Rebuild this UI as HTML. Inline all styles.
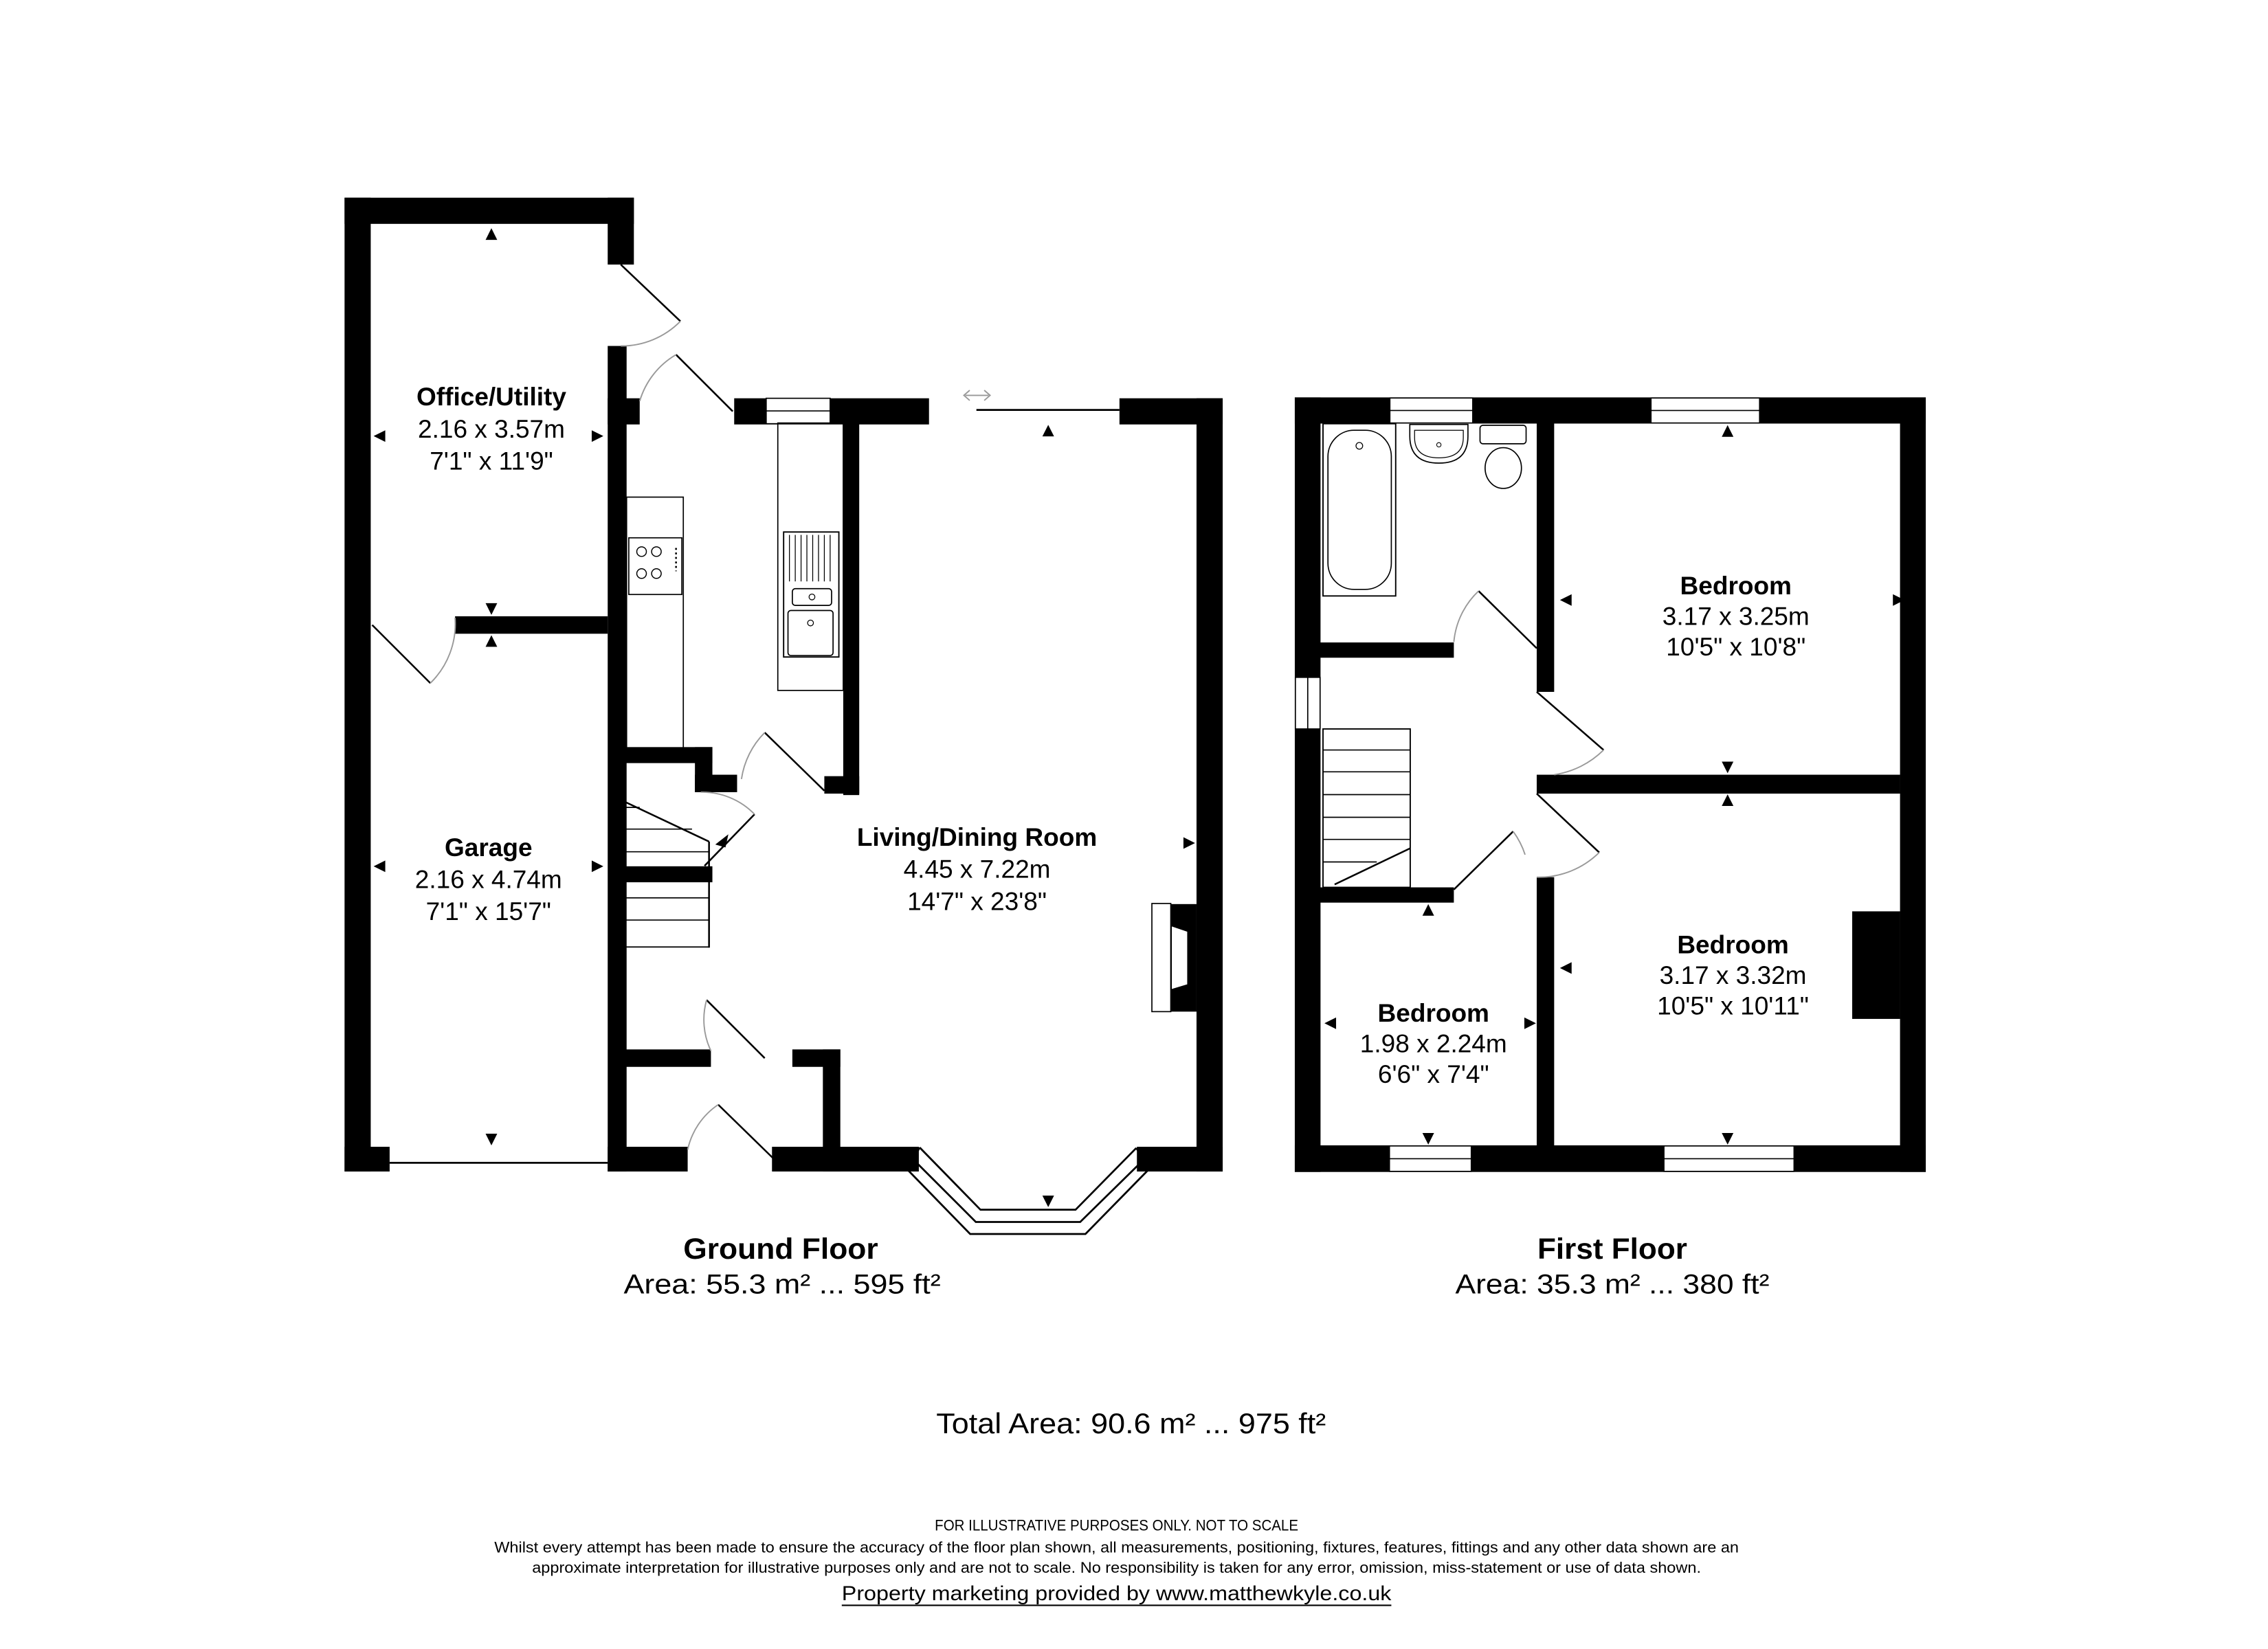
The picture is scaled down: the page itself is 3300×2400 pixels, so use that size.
<!DOCTYPE html>
<html><head><meta charset="utf-8"><style>
html,body{margin:0;padding:0;background:#fff;}
svg{display:block;}
text{font-family:"Liberation Sans",Arial,sans-serif;fill:#000;}
</style></head><body>
<svg width="3300" height="2400" viewBox="0 0 1560 1134.5" xmlns="http://www.w3.org/2000/svg">
<rect x="0" y="0" width="1560" height="1134.5" fill="#fff"/>
<g fill="#000">
<rect x="237" y="136" width="18" height="670"/>
<rect x="237" y="136" width="199" height="18"/>
<rect x="418" y="136" width="18" height="46"/>
<rect x="418" y="238" width="13" height="568"/>
<rect x="237" y="789" width="31" height="17"/>
<rect x="313" y="424" width="105" height="12"/>
<rect x="418" y="274" width="22" height="18"/>
<rect x="505" y="274" width="134" height="18"/>
<rect x="580" y="291" width="11" height="256"/>
<rect x="567" y="534" width="24" height="12"/>
<rect x="427" y="514" width="63" height="11"/>
<rect x="478" y="514" width="12" height="31"/>
<rect x="478" y="533" width="29" height="12"/>
<rect x="427" y="596" width="63" height="11"/>
<rect x="427" y="722" width="62" height="12"/>
<rect x="545" y="722" width="33" height="12"/>
<rect x="566" y="722" width="12" height="84"/>
<rect x="418" y="789" width="55" height="17"/>
<rect x="531" y="789" width="101" height="17"/>
<rect x="782" y="789" width="59" height="17"/>
<rect x="823" y="274" width="18" height="532"/>
<rect x="770" y="274" width="71" height="18"/>
<rect x="805" y="622" width="18" height="74"/>
</g>
<rect x="527" y="274" width="44" height="17.5" fill="#fff" stroke="#000" stroke-width="0.8"/>
<line x1="527" y1="282.7" x2="571" y2="282.7" stroke="#000" stroke-width="0.8"/>
<rect x="792.3" y="621.6" width="13" height="74.4" fill="#fff" stroke="#000" stroke-width="0.8"/>
<polygon points="806,637.4 816.6,641 816.6,677.2 806,680.4" fill="#fff"/>
<g stroke="#000" fill="none" stroke-width="1.2">
<line x1="268" y1="800" x2="418" y2="800" stroke-width="1.3"/>
<line x1="427" y1="182" x2="468" y2="221"/>
<line x1="504" y1="283" x2="465" y2="244"/>
<line x1="256" y1="430" x2="296" y2="470"/>
<line x1="567" y1="544" x2="526" y2="504"/>
<line x1="484.6" y1="595.7" x2="519" y2="560.2"/>
<line x1="486" y1="688" x2="526" y2="728"/>
<line x1="494" y1="760" x2="535" y2="800"/>
<line x1="671.6" y1="282" x2="770" y2="282" stroke-width="1.3"/>
<line x1="427.8" y1="550.7" x2="487.7" y2="579"/>
<line x1="487.7" y1="579" x2="487.7" y2="652"/>
<line x1="427" y1="555.5" x2="440" y2="555.5" stroke-width="0.8"/>
<line x1="427" y1="570.4" x2="476" y2="570.4" stroke-width="0.8"/>
<line x1="427" y1="586" x2="487.7" y2="586" stroke-width="0.8"/>
<line x1="427" y1="617.7" x2="487.7" y2="617.7" stroke-width="0.8"/>
<line x1="427" y1="633" x2="487.7" y2="633" stroke-width="0.8"/>
<line x1="427" y1="651.5" x2="487.7" y2="651.5" stroke-width="0.8"/>
<rect x="431" y="342" width="39" height="173" stroke-width="0.8"/>
<rect x="432.5" y="370" width="36.5" height="39" stroke-width="0.8"/>
<circle cx="441.3" cy="379.5" r="3.3" stroke-width="0.7"/>
<circle cx="451.5" cy="379.5" r="3.3" stroke-width="0.7"/>
<circle cx="441.3" cy="394.6" r="3.3" stroke-width="0.7"/>
<circle cx="451.5" cy="394.6" r="3.3" stroke-width="0.7"/>
<line x1="465" y1="377" x2="465" y2="393" stroke-width="1.2" stroke-dasharray="1.3,1.8"/>
<rect x="535" y="291" width="45" height="184" stroke-width="0.8"/>
<rect x="539" y="366" width="38" height="86" stroke-width="0.9"/>
<g stroke-width="0.6">
<line x1="543" y1="368" x2="543" y2="400"/><line x1="547" y1="368" x2="547" y2="400"/>
<line x1="551" y1="368" x2="551" y2="400"/><line x1="555" y1="368" x2="555" y2="400"/>
<line x1="559" y1="368" x2="559" y2="400"/><line x1="563" y1="368" x2="563" y2="400"/>
<line x1="567" y1="368" x2="567" y2="400"/><line x1="571" y1="368" x2="571" y2="400"/>
</g>
<rect x="545" y="405" width="27" height="11.5" rx="2" stroke-width="0.8"/>
<circle cx="558.5" cy="410.7" r="2" stroke-width="0.6"/>
<rect x="542" y="420" width="31" height="31" rx="2" stroke-width="0.8"/>
<circle cx="557.5" cy="428.6" r="2" stroke-width="0.6"/>
<polyline points="632.6,789.5 674.4,832.3 739.8,832.3 781.6,789.8" stroke-width="1.3"/>
<polyline points="629.5,799 671.2,840.7 743,840.7 785.5,799" stroke-width="1.3"/>
<polyline points="624,804.5 667.3,849 746.6,849 790.2,804.5" stroke-width="1.3"/>
<line x1="624" y1="804.5" x2="632.6" y2="789.5" stroke-width="1.3"/>
<line x1="790.2" y1="804.5" x2="781.6" y2="789.8" stroke-width="1.3"/>
</g>
<g stroke="#999" fill="none" stroke-width="0.9">
<path d="M468,221 A57,57 0 0 1 427,238"/>
<path d="M440,276 A55,55 0 0 1 465,244"/>
<path d="M296,470 A57,57 0 0 0 313,425"/>
<path d="M526,504 A57,57 0 0 0 510,536"/>
<path d="M519,560.2 A50,50 0 0 0 482,545"/>
<path d="M489,723 A50,50 0 0 1 486,688"/>
<path d="M473,791 A50,50 0 0 1 494,760"/>
</g>
<path d="M664,272 L680,272 M667,268.5 L663,272 L667,275.5 M677,268.5 L681,272 L677,275.5" stroke="#999" stroke-width="0.9" fill="none"/>
<g fill="#000">
<polygon points="338,157 334,165 342,165"/>
<polygon points="257,300 265,296 265,304"/>
<polygon points="415,300 407,296 407,304"/>
<polygon points="338,423 334,415 342,415"/>
<polygon points="338,437 334,445 342,445"/>
<polygon points="257,596 265,592 265,600"/>
<polygon points="415,596 407,592 407,600"/>
<polygon points="338,788 334,780 342,780"/>
<polygon points="721,292.3 717,300.2 725,300.2"/>
<polygon points="822,580 814,576 814,584"/>
<polygon points="721,830.5 717,822.6 725,822.6"/>
<polygon points="492,581 501,574 499,583"/>
</g>
<g fill="#000">
<rect x="890.6" y="273.4" width="434" height="18"/>
<rect x="890.6" y="788" width="434" height="18.3"/>
<rect x="890.6" y="273.4" width="17.7" height="532.9"/>
<rect x="1306.9" y="273.4" width="17.7" height="532.9"/>
<rect x="1057" y="291" width="12" height="185"/>
<rect x="1057" y="533" width="250" height="13"/>
<rect x="1057" y="603.5" width="12" height="185"/>
<rect x="908" y="442" width="92" height="10.5"/>
<rect x="908" y="610.5" width="92" height="10.5"/>
<rect x="1274" y="627" width="33" height="74"/>
</g>
<g fill="#fff" stroke="#000" stroke-width="0.8">
<rect x="956" y="273.8" width="57" height="17.2"/>
<rect x="1135.6" y="273.8" width="74.7" height="17.2"/>
<rect x="955.7" y="788.4" width="56.3" height="17.5"/>
<rect x="1144.5" y="788.4" width="89.5" height="17.5"/>
<rect x="891" y="466" width="17" height="35.5"/>
</g>
<g stroke="#000" stroke-width="0.8">
<line x1="956" y1="282.4" x2="1013" y2="282.4"/>
<line x1="1135.6" y1="282.4" x2="1210.3" y2="282.4"/>
<line x1="955.7" y1="797.2" x2="1012" y2="797.2"/>
<line x1="1144.5" y1="797.2" x2="1234" y2="797.2"/>
<line x1="899.5" y1="466" x2="899.5" y2="501.5"/>
</g>
<g stroke="#000" fill="none" stroke-width="1.2">
<rect x="910" y="501.5" width="60" height="109" stroke-width="0.9"/>
<g stroke-width="0.8">
<line x1="910" y1="516" x2="970" y2="516"/>
<line x1="910" y1="531" x2="970" y2="531"/>
<line x1="910" y1="546.7" x2="970" y2="546.7"/>
<line x1="910" y1="562.3" x2="970" y2="562.3"/>
<line x1="910" y1="577.5" x2="970" y2="577.5"/>
<line x1="910" y1="593" x2="947" y2="593"/>
</g>
<line x1="970" y1="583.6" x2="918" y2="608.5"/>
<line x1="1017" y1="406.6" x2="1057" y2="446"/>
<line x1="1057" y1="476" x2="1103" y2="516"/>
<line x1="1057" y1="546" x2="1100" y2="586.5"/>
<line x1="1000" y1="612" x2="1040.8" y2="572"/>
<rect x="910" y="291.5" width="50" height="118.5" stroke-width="0.9"/>
<rect x="913.4" y="296" width="43.6" height="109.5" rx="18" stroke-width="0.8"/>
<circle cx="935" cy="306.7" r="2.3" stroke-width="0.6"/>
<path d="M969.7,292 L1009.7,292 L1009.7,300 Q1009.7,318.6 989.7,318.6 Q969.7,318.6 969.7,300 Z" stroke-width="0.8"/>
<path d="M973,296 L1006.5,296 L1006.5,301 Q1006.5,315 989.7,315 Q973,315 973,301 Z" stroke-width="0.6"/>
<circle cx="989.7" cy="306" r="1.5" stroke-width="0.5"/>
<rect x="1018" y="292.6" width="31.7" height="12.7" rx="2" stroke-width="0.8"/>
<ellipse cx="1034" cy="322" rx="12.5" ry="14" stroke-width="0.8"/>
</g>
<g stroke="#999" fill="none" stroke-width="0.9">
<path d="M1000,441.7 A55,55 0 0 1 1017,406.6"/>
<path d="M1103,516 A61,61 0 0 1 1069,533"/>
<path d="M1100,586.5 A59,59 0 0 1 1057,603.5"/>
<path d="M1040.8,572 A57,57 0 0 1 1049,588"/>
</g>
<g fill="#000">
<polygon points="1188.3,292.5 1184.3,300.5 1192.3,300.5"/>
<polygon points="1073,412.8 1081,408.8 1081,416.8"/>
<polygon points="1310,412.8 1302,408.8 1302,416.8"/>
<polygon points="1188.3,532 1184.3,524 1192.3,524"/>
<polygon points="1188.3,546.5 1184.3,554.5 1192.3,554.5"/>
<polygon points="1073,666 1081,662 1081,670"/>
<polygon points="1188.3,787.5 1184.3,779.5 1192.3,779.5"/>
<polygon points="982.4,622 978.4,630 986.4,630"/>
<polygon points="911,704 919,700 919,708"/>
<polygon points="1056.5,704 1048.5,700 1048.5,708"/>
<polygon points="982.4,787.5 978.4,779.5 986.4,779.5"/>
</g>
<g text-anchor="middle" font-size="17.5" transform="translate(-4,0)">
<text x="342" y="279" font-weight="bold">Office/Utility</text>
<text x="342" y="301">2.16 x 3.57m</text>
<text x="342" y="323">7'1" x 11'9"</text>
<text x="340" y="589" font-weight="bold">Garage</text>
<text x="340" y="611">2.16 x 4.74m</text>
<text x="340" y="633">7'1" x 15'7"</text>
<text x="676" y="582" font-weight="bold">Living/Dining Room</text>
<text x="676" y="604">4.45 x 7.22m</text>
<text x="676" y="626">14'7" x 23'8"</text>
<text x="1198" y="409" font-weight="bold">Bedroom</text>
<text x="1198" y="430">3.17 x 3.25m</text>
<text x="1198" y="451">10'5" x 10'8"</text>
<text x="1196" y="656" font-weight="bold">Bedroom</text>
<text x="1196" y="677">3.17 x 3.32m</text>
<text x="1196" y="698">10'5" x 10'11"</text>
<text x="990" y="703" font-weight="bold">Bedroom</text>
<text x="990" y="724">1.98 x 2.24m</text>
<text x="990" y="745">6'6" x 7'4"</text>
</g>
<g text-anchor="middle" transform="translate(-4,-4)">
<text x="541" y="870" font-size="20" font-weight="bold" textLength="134" lengthAdjust="spacingAndGlyphs">Ground Floor</text>
<text x="542" y="894" font-size="19" textLength="218" lengthAdjust="spacingAndGlyphs">Area: 55.3 m² ... 595 ft²</text>
<text x="1113" y="870" font-size="20" font-weight="bold" textLength="103" lengthAdjust="spacingAndGlyphs">First Floor</text>
<text x="1113" y="894" font-size="19" textLength="216" lengthAdjust="spacingAndGlyphs">Area: 35.3 m² ... 380 ft²</text>
<text x="782" y="990" font-size="19.5" textLength="268" lengthAdjust="spacingAndGlyphs">Total Area: 90.6 m² ... 975 ft²</text>
<text x="772" y="1057" font-size="10.5" textLength="250" lengthAdjust="spacingAndGlyphs">FOR ILLUSTRATIVE PURPOSES ONLY. NOT TO SCALE</text>
<text x="772" y="1072" font-size="10.5" textLength="856" lengthAdjust="spacingAndGlyphs">Whilst every attempt has been made to ensure the accuracy of the floor plan shown, all measurements, positioning, fixtures, features, fittings and any other data shown are an</text>
<text x="772" y="1086" font-size="10.5" textLength="804" lengthAdjust="spacingAndGlyphs">approximate interpretation for illustrative purposes only and are not to scale. No responsibility is taken for any error, omission, miss-statement or use of data shown.</text>
<text x="772" y="1105" font-size="14" textLength="378" lengthAdjust="spacingAndGlyphs">Property marketing provided by www.matthewkyle.co.uk</text>
<line x1="583" y1="1108.5" x2="961" y2="1108.5" stroke="#000" stroke-width="1"/>
</g>
</svg>
</body></html>
